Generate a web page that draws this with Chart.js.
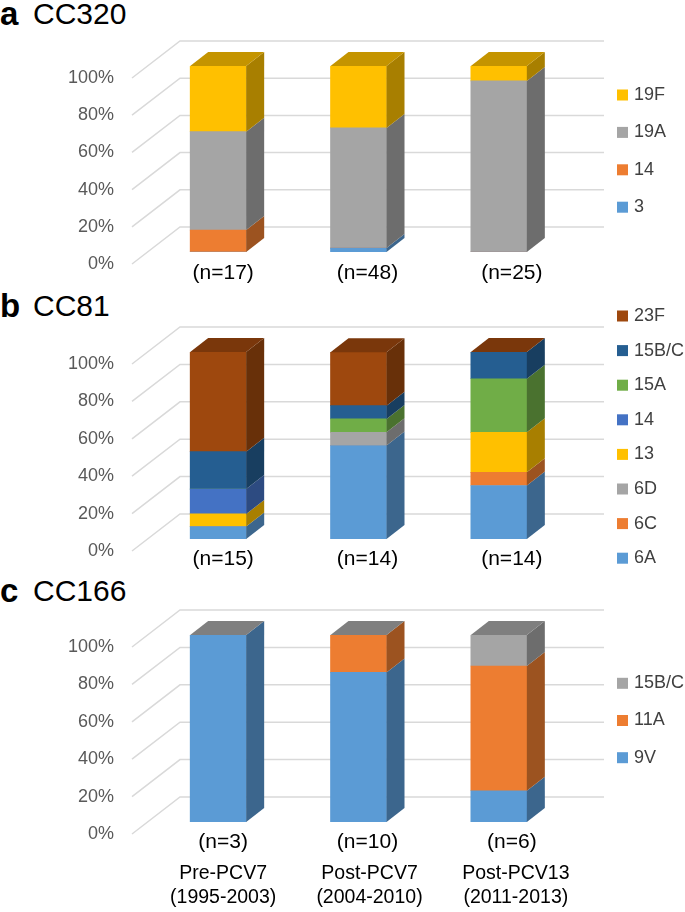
<!DOCTYPE html>
<html>
<head>
<meta charset="utf-8">
<script src="https://cdn.jsdelivr.net/npm/chart.js@4.4.1/dist/chart.umd.min.js"></script>
<style>
  body { margin: 0; background: #fff; width: 685px; height: 912px; position: relative; overflow: hidden; font-family: "Liberation Sans", Arial, sans-serif; }
  canvas { position: absolute; left: 0; }
  .title { position: absolute; left: 0; line-height: 30px; white-space: nowrap; color: #000; }
  .title b { position: absolute; left: 0; font-size: 33px; }
  .title span { position: absolute; left: 33px; font-size: 30px; }
</style>
</head>
<body>
<div class="title" style="top:-1px"><b>a</b><span>CC320</span></div>
<div class="title" style="top:291px"><b>b</b><span>CC81</span></div>
<div class="title" style="top:576px"><b>c</b><span>CC166</span></div>

<canvas id="chartA" width="685" height="290" style="top:0"></canvas>
<canvas id="chartB" width="685" height="280" style="top:290px"></canvas>
<canvas id="chartC" width="685" height="342" style="top:570px"></canvas>

<script>
// y axis
const yValues = [0, 20, 40, 60, 80, 100];
const yTicks = ["0%", "20%", "40%", "60%", "80%", "100%"];

// panel a - CC320
const labelsA = ["(n=17)", "(n=48)", "(n=25)"];
const a_3 = [0, 2.1, 0];
const a_14 = [11.8, 0, 0];
const a_19A = [52.9, 64.6, 92.0];
const a_19F = [35.3, 33.3, 8.0];

// panel b - CC81
const labelsB = ["(n=15)", "(n=14)", "(n=14)"];
const b_6A = [6.7, 50.0, 28.6];
const b_6C = [0, 0, 7.1];
const b_6D = [0, 7.1, 0];
const b_13 = [6.7, 0, 21.4];
const b_14 = [13.3, 0, 0];
const b_15A = [0, 7.1, 28.6];
const b_15BC = [20.0, 7.1, 14.3];
const b_23F = [53.3, 28.6, 0];

// panel c - CC166
const labelsC = ["(n=3)", "(n=10)", "(n=6)"];
const eraLabels = [["Pre-PCV7", "(1995-2003)"], ["Post-PCV7", "(2004-2010)"], ["Post-PCV13", "(2011-2013)"]];
const c_9V = [100, 80.0, 16.7];
const c_11A = [0, 20.0, 66.7];
const c_15BC = [0, 0, 16.6];

const BLUE = "#5B9BD5", ORANGE = "#ED7D31", GRAY = "#A5A5A5", YELLOW = "#FFC000";
const DBLUE = "#4472C4", GREEN = "#70AD47", NAVY = "#255E91", BROWN = "#9E480E";

function shade(hex, f) {
  const n = parseInt(hex.slice(1), 16);
  const r = Math.round(((n >> 16) & 255) * f);
  const g = Math.round(((n >> 8) & 255) * f);
  const b = Math.round((n & 255) * f);
  return "rgb(" + r + "," + g + "," + b + ")";
}

function narrowText(ctx, text, x, y, size, color, align) {
  ctx.save();
  ctx.font = size + 'px "Liberation Sans", Arial, sans-serif';
  ctx.fillStyle = color;
  ctx.textAlign = align;
  ctx.textBaseline = "middle";
  ctx.fillText(text, x, y);
  ctx.restore();
}

// fake 3D: back wall grid, bar sides/tops, front labels, legend
function box3d(cfg) {
  return {
    id: "box3d",
    beforeDatasetsDraw(chart) {
      const ctx = chart.ctx, ys = chart.scales.y, area = chart.chartArea;
      ctx.save();
      ctx.strokeStyle = "#D9D9D9";
      ctx.lineWidth = 1.5;
      yValues.forEach(v => {
        const y = ys.getPixelForValue(v);
        ctx.beginPath();
        ctx.moveTo(area.left - 16, y + 12);
        ctx.lineTo(area.left + 32, y - 25);
        ctx.lineTo(area.right + 35, y - 25);
        ctx.stroke();
      });
      ctx.restore();
    },
    afterDatasetsDraw(chart) {
      const ctx = chart.ctx, dx = 18, dy = 14;
      const n = chart.data.labels.length;
      const sets = chart.data.datasets;
      const tops = [];
      ctx.save();
      sets.forEach((ds, di) => {
        chart.getDatasetMeta(di).data.forEach((bar, i) => {
          const p = bar.getProps(["x", "y", "base", "width"], true);
          const right = p.x + p.width / 2;
          if (tops[i] === undefined || p.y < tops[i].y) tops[i] = p;
          if (p.base - p.y < 0.3) return;
          ctx.fillStyle = shade(ds.backgroundColor, 0.66);
          ctx.beginPath();
          ctx.moveTo(right, p.y);
          ctx.lineTo(right + dx, p.y - dy);
          ctx.lineTo(right + dx, p.base - dy);
          ctx.lineTo(right, p.base);
          ctx.closePath();
          ctx.fill();
        });
      });
      // top face takes the colour of the last series, as in the original
      const topColor = shade(sets[sets.length - 1].backgroundColor, 0.77);
      for (let i = 0; i < n; i++) {
        const p = tops[i];
        const l = p.x - p.width / 2, r = p.x + p.width / 2;
        ctx.fillStyle = topColor;
        ctx.beginPath();
        ctx.moveTo(l, p.y);
        ctx.lineTo(l + dx, p.y - dy);
        ctx.lineTo(r + dx, p.y - dy);
        ctx.lineTo(r, p.y);
        ctx.closePath();
        ctx.fill();
      }
      ctx.restore();
    },
    afterDraw(chart) {
      const ctx = chart.ctx, ys = chart.scales.y, xs = chart.scales.x;
      yValues.forEach((v, k) => {
        narrowText(ctx, yTicks[k], 114, ys.getPixelForValue(v) + 12, 18, "#595959", "right");
      });
      chart.data.labels.forEach((lab, i) => {
        const x = xs.getPixelForValue(i) + 5 + 4 * i;
        narrowText(ctx, lab, x, cfg.catY, 21, "#000", "center");
        if (cfg.era) {
          narrowText(ctx, cfg.era[i][0], x + 2 * i, cfg.catY + 32, 19.5, "#000", "center");
          narrowText(ctx, cfg.era[i][1], x + 2 * i, cfg.catY + 56, 19.5, "#000", "center");
        }
      });
      // legend, last series on top
      const sets = chart.data.datasets.slice().reverse();
      sets.forEach((ds, k) => {
        const y = cfg.legTop + k * cfg.legGap;
        ctx.fillStyle = ds.backgroundColor;
        ctx.fillRect(617, y - 5.5, 11, 11);
        narrowText(ctx, ds.label, 634, y, 18, "#404040", "left");
      });
    }
  };
}

function makeChart(id, labels, series, cfg) {
  new Chart(document.getElementById(id), {
    type: "bar",
    data: {
      labels: labels,
      datasets: series.map(s => ({
        label: s[0],
        data: s[1],
        backgroundColor: s[2],
        borderWidth: 0,
        barThickness: 56,
      })),
    },
    options: {
      responsive: false,
      animation: false,
      layout: { padding: { left: 148, right: 116, top: cfg.top, bottom: cfg.bottom } },
      scales: {
        x: { stacked: true, display: false },
        y: { stacked: true, display: false, min: 0, max: 100 },
      },
      plugins: { legend: { display: false }, tooltip: { enabled: false } },
    },
    plugins: [box3d(cfg)],
  });
}

makeChart("chartA", labelsA, [
  ["3", a_3, BLUE],
  ["14", a_14, ORANGE],
  ["19A", a_19A, GRAY],
  ["19F", a_19F, YELLOW],
], { top: 66, bottom: 38, catY: 273, legTop: 95, legGap: 37.4 });

makeChart("chartB", labelsB, [
  ["6A", b_6A, BLUE],
  ["6C", b_6C, ORANGE],
  ["6D", b_6D, GRAY],
  ["13", b_13, YELLOW],
  ["14", b_14, DBLUE],
  ["15A", b_15A, GREEN],
  ["15B/C", b_15BC, NAVY],
  ["23F", b_23F, BROWN],
], { top: 62, bottom: 31, catY: 269, legTop: 26, legGap: 34.6 });

makeChart("chartC", labelsC, [
  ["9V", c_9V, BLUE],
  ["11A", c_11A, ORANGE],
  ["15B/C", c_15BC, GRAY],
], { top: 65, bottom: 90, catY: 272, legTop: 113.3, legGap: 37.2, era: eraLabels });
</script>
</body>
</html>
